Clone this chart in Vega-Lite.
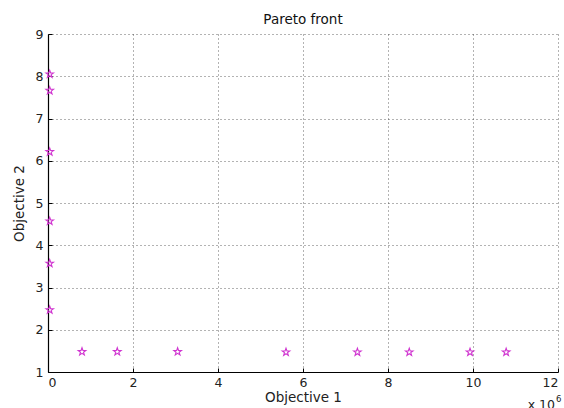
{
  "$schema": "https://vega.github.io/schema/vega-lite/v6.json",
  "autosize": {"type": "none"},
  "width": 510,
  "height": 338,
  "padding": {"left": 48, "top": 34, "right": 6, "bottom": 36},
  "background": "white",
  "title": "Pareto front",
  "config": {
    "view": {"strokeWidth": 0},
    "title": {"font": "DejaVu Sans", "fontSize": 13.5, "fontWeight": "normal", "color": "#111111", "offset": 2},
    "axis": {
      "labelFont": "DejaVu Sans",
      "labelFontSize": 12.5,
      "labelColor": "#222222",
      "titleFont": "DejaVu Sans",
      "titleFontSize": 13.5,
      "titleFontWeight": "normal",
      "titleColor": "#222222",
      "domainColor": "#000000",
      "domainWidth": 1.2,
      "ticks": true,
      "tickSize": -4,
      "tickColor": "#000000",
      "grid": true,
      "gridColor": "#333333",
      "gridDash": [1, 3],
      "gridWidth": 1,
      "gridOpacity": 0.75
    }
  },
  "layer": [
    {
      "data": {
        "values": [
          {"obj1": 0.04, "obj2": 8.05},
          {"obj1": 0.04, "obj2": 7.66},
          {"obj1": 0.04, "obj2": 6.21},
          {"obj1": 0.04, "obj2": 4.57},
          {"obj1": 0.04, "obj2": 3.57},
          {"obj1": 0.04, "obj2": 2.47},
          {"obj1": 0.8, "obj2": 1.48},
          {"obj1": 1.63, "obj2": 1.48},
          {"obj1": 3.05, "obj2": 1.48},
          {"obj1": 5.6, "obj2": 1.47},
          {"obj1": 7.28, "obj2": 1.47},
          {"obj1": 8.5, "obj2": 1.47},
          {"obj1": 9.93, "obj2": 1.47},
          {"obj1": 10.78, "obj2": 1.47}
        ]
      },
      "mark": {
        "type": "point",
        "shape": "M0,-1L0.235,-0.324L0.951,-0.309L0.38,0.124L0.588,0.809L0,0.4L-0.588,0.809L-0.38,0.124L-0.951,-0.309L-0.235,-0.324Z",
        "filled": false,
        "size": 64,
        "stroke": "#d035d0",
        "strokeWidth": 1.1,
        "opacity": 1
      },
      "encoding": {
        "x": {
          "field": "obj1",
          "type": "quantitative",
          "scale": {"domain": [0, 12], "nice": false},
          "axis": {
            "title": "Objective 1",
            "values": [0, 2, 4, 6, 8, 10, 12],
            "labelPadding": 8,
            "titlePadding": 2
          }
        },
        "y": {
          "field": "obj2",
          "type": "quantitative",
          "scale": {"domain": [1, 9], "nice": false, "zero": false},
          "axis": {
            "title": "Objective 2",
            "values": [1, 2, 3, 4, 5, 6, 7, 8, 9],
            "labelPadding": 9,
            "titlePadding": 9
          }
        }
      }
    },
    {
      "data": {"values": [{"label": "x 10"}]},
      "mark": {"type": "text", "font": "DejaVu Sans", "fontSize": 12.5, "align": "right", "baseline": "middle", "dx": -3, "dy": 33, "color": "#222222"},
      "encoding": {
        "text": {"field": "label"},
        "x": {"datum": 12, "type": "quantitative"},
        "y": {"datum": 1, "type": "quantitative"}
      }
    },
    {
      "data": {"values": [{"label": "6"}]},
      "mark": {"type": "text", "font": "DejaVu Sans", "fontSize": 8.5, "align": "left", "baseline": "middle", "dx": -2, "dy": 27, "color": "#222222"},
      "encoding": {
        "text": {"field": "label"},
        "x": {"datum": 12, "type": "quantitative"},
        "y": {"datum": 1, "type": "quantitative"}
      }
    }
  ]
}
